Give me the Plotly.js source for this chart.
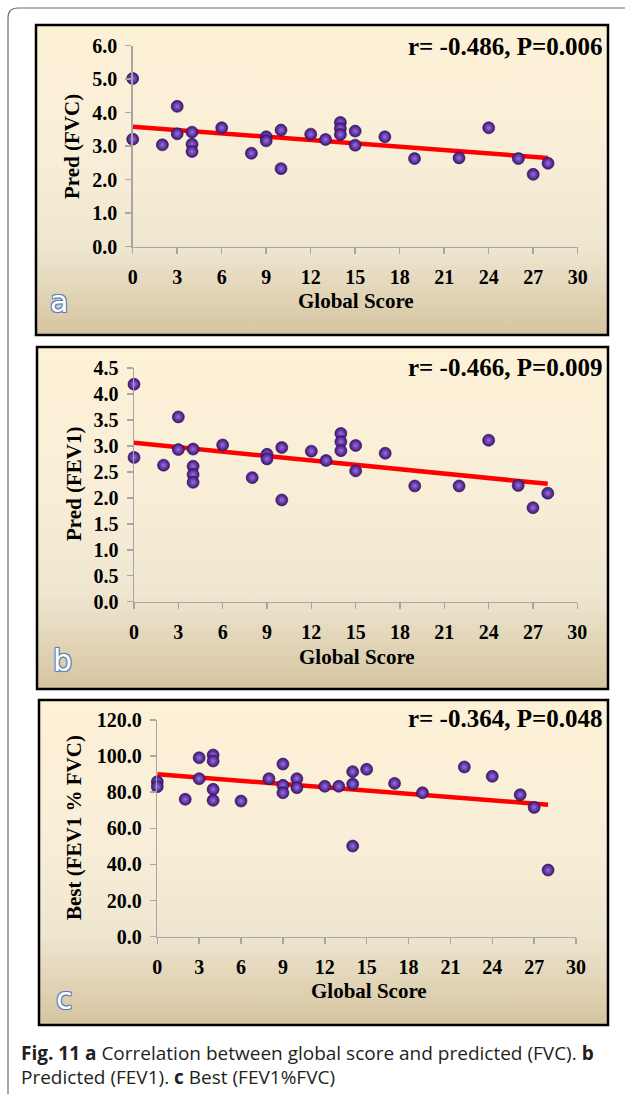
<!DOCTYPE html>
<html><head><meta charset="utf-8">
<script src="https://cdn.plot.ly/plotly-3.0.1.min.js"></script>
<style>html,body{margin:0;padding:0;background:#fff;} #chart{width:625px;height:1094px;}</style>
</head><body><div id="chart"></div><script>
// ---- data ----
const scoreA = [0,0,2,3,3,4,4,4,6,8,9,9,10,10,12,13,14,14,14,15,15,17,19,22,24,26,27,28];
const fvcA   = [5.02,3.21,3.04,4.19,3.37,3.42,3.06,2.84,3.55,2.79,3.28,3.16,3.48,2.33,3.36,3.20,3.71,3.53,3.35,3.45,3.03,3.28,2.63,2.65,3.55,2.63,2.16,2.49];
const fitAx = [0,28];
const fitAy = [3.58,2.65];
const statA = "r= -0.486, P=0.006";

const scoreB = [0,0,2,3,3,4,4,4,4,6,8,9,9,10,10,12,13,14,14,14,15,15,17,19,22,24,26,27,28];
const fev1B  = [4.19,2.78,2.63,3.56,2.93,2.94,2.61,2.45,2.30,3.02,2.39,2.84,2.75,2.97,1.96,2.90,2.72,3.24,3.08,2.91,3.01,2.52,2.86,2.23,2.23,3.11,2.24,1.81,2.09];
const fitBx = [0,28];
const fitBy = [3.06,2.27];
const statB = "r= -0.466, P=0.009";

const scoreC = [0,0,2,3,3,4,4,4,4,6,8,9,9,9,10,10,12,13,14,14,14,15,17,19,22,24,26,27,28];
const ratioC = [85.8,83.1,76.1,99.1,87.5,100.6,97.3,81.6,75.5,75.1,87.5,95.6,83.8,79.7,87.5,82.5,83.3,83.3,91.4,84.5,50.2,92.7,84.9,79.7,94.0,88.8,78.6,71.6,36.9];
const fitCx = [0,28];
const fitCy = [89.9,73.1];
const statC = "r= -0.364, P=0.048";

const xTitle = "Global Score";
const yTitles = ["Pred (FVC)","Pred (FEV1)","Best (FEV1 % FVC)"];
const panelLetters = ["a","b","c"];
const caption1 = "<b>Fig. 11 a</b> Correlation between global score and predicted (FVC). <b>b</b>";
const caption2 = "Predicted (FEV1). <b>c</b> Best (FEV1%FVC)";

// ---- geometry helpers ----
const W = 625, H = 1094;
const px = v => v / W;
const py = v => 1 - v / H;

const serif = "Liberation Serif, Times New Roman, serif";
const markerStyle = {size: 12, color: '#3c1474', gradient: {type: 'radial', color: '#9c6ee0'}, line: {color: '#2a0e55', width: 0.6}};
const lineStyle = {color: '#ff0000', width: 4.5};

function pts(x, y, xa, ya) {
  return {x: x, y: y, type: 'scatter', mode: 'markers', xaxis: xa, yaxis: ya, marker: markerStyle, cliponaxis: false, hoverinfo: 'skip'};
}
function fit(x, y, xa, ya) {
  return {x: x, y: y, type: 'scatter', mode: 'lines', xaxis: xa, yaxis: ya, line: lineStyle, cliponaxis: false, hoverinfo: 'skip'};
}

const data = [
  fit(fitAx, fitAy, 'x', 'y'), pts(scoreA, fvcA, 'x', 'y'),
  fit(fitBx, fitBy, 'x2', 'y2'), pts(scoreB, fev1B, 'x2', 'y2'),
  fit(fitCx, fitCy, 'x3', 'y3'), pts(scoreC, ratioC, 'x3', 'y3')
];

const tickFont = {family: serif, size: 20, color: '#000', weight: 700};
function xax(d, anchor) {
  return {domain: d, anchor: anchor, range: [0, 30], tick0: 0, dtick: 3, showline: true, linecolor: '#a6a6a6', linewidth: 1.5,
    ticks: 'outside', ticklen: 6, tickcolor: '#a6a6a6', tickwidth: 1.5, showgrid: false, zeroline: false,
    tickfont: tickFont, ticklabelstandoff: 6, fixedrange: true};
}
function yax(d, anchor, r, dt) {
  return {domain: d, anchor: anchor, range: r, dtick: dt, tick0: 0, tickformat: '.1f', showline: true, linecolor: '#a6a6a6', linewidth: 1.5,
    ticks: 'outside', ticklen: 6, tickcolor: '#a6a6a6', tickwidth: 1.5, showgrid: false, zeroline: false,
    tickfont: tickFont, ticklabelstandoff: 4, fixedrange: true};
}

// panel boxes [left, top, right, bottom] in px
const boxes = [[36, 25, 608, 335], [37, 347, 608, 689], [39, 700, 608, 1025]];

const gradSvg = '<svg xmlns="http://www.w3.org/2000/svg" width="100" height="100" preserveAspectRatio="none">' +
  '<defs><linearGradient id="g" x1="0" y1="0" x2="0" y2="1">' +
  '<stop offset="0" stop-color="#fdf1d6"/><stop offset="0.45" stop-color="#f8eed8"/>' +
  '<stop offset="0.72" stop-color="#efe6d0"/><stop offset="1" stop-color="#d5c4a0"/>' +
  '</linearGradient></defs><rect width="100" height="100" fill="url(#g)"/></svg>';
const gradSrc = 'data:image/svg+xml;charset=utf-8,' + encodeURIComponent(gradSvg);

const images = boxes.map(b => ({source: gradSrc, xref: 'paper', yref: 'paper', x: px(b[0]), y: py(b[1]),
  sizex: px(b[2]) - px(b[0]), sizey: py(b[1]) - py(b[3]), sizing: 'stretch', xanchor: 'left', yanchor: 'top', layer: 'below'}));

const shapes = boxes.map(b => ({type: 'rect', xref: 'paper', yref: 'paper', x0: px(b[0]), x1: px(b[2]), y0: py(b[3]), y1: py(b[1]),
  line: {color: '#000', width: 2.5}, fillcolor: 'rgba(0,0,0,0)'}));
// outer frame: left + top with rounded corner
shapes.push({type: 'path', xref: 'paper', yref: 'paper',
  path: `M ${px(8)},${py(1094)} L ${px(8)},${py(18)} Q ${px(8)},${py(8)} ${px(18)},${py(8)} L ${px(625)},${py(8)}`,
  line: {color: '#6d6d6d', width: 1.2}});

const titleFont = {family: serif, size: 21, color: '#000', weight: 700};
const statFont = {family: serif, size: 25, color: '#000', weight: 700};
const letterFont = {family: 'DejaVu Sans, sans-serif', size: 30, color: '#ffffff',
  shadow: '-1px -1px 0 #5d7fb8, 1px -1px 0 #5d7fb8, -1px 1px 0 #5d7fb8, 1px 1px 0 #5d7fb8, 0 0 2px #5d7fb8'};

const ann = [];
const statPos = [[604, 46, statA], [604, 367, statB], [604, 718, statC]];
statPos.forEach(s => ann.push({xref: 'paper', yref: 'paper', x: px(s[0]), y: py(s[1]), xanchor: 'right', yanchor: 'middle', text: s[2], showarrow: false, font: statFont}));
const xtPos = [[356, 301], [357, 657], [369, 991]];
xtPos.forEach(p => ann.push({xref: 'paper', yref: 'paper', x: px(p[0]), y: py(p[1]), xanchor: 'center', yanchor: 'middle', text: xTitle, showarrow: false, font: titleFont}));
const ytPos = [[72, 147], [74, 484], [74, 828]];
ytPos.forEach((p, i) => ann.push({xref: 'paper', yref: 'paper', x: px(p[0]), y: py(p[1]), xanchor: 'center', yanchor: 'middle', textangle: -90, text: yTitles[i], showarrow: false, font: titleFont}));
const letPos = [[59, 302], [62, 660], [64, 998]];
letPos.forEach((p, i) => ann.push({xref: 'paper', yref: 'paper', x: px(p[0]), y: py(p[1]), xanchor: 'center', yanchor: 'middle', text: panelLetters[i], showarrow: false, font: letterFont}));
const capFont = {family: 'Open Sans, sans-serif', size: 19, color: '#231f20'};
ann.push({xref: 'paper', yref: 'paper', x: px(19), y: py(1053), xanchor: 'left', yanchor: 'middle', text: caption1, showarrow: false, font: capFont});
ann.push({xref: 'paper', yref: 'paper', x: px(19), y: py(1077), xanchor: 'left', yanchor: 'middle', text: caption2, showarrow: false, font: capFont});

const layout = {
  width: W, height: H, margin: {l: 0, r: 0, t: 0, b: 0}, paper_bgcolor: '#ffffff', plot_bgcolor: 'rgba(0,0,0,0)',
  showlegend: false,
  xaxis: xax([px(132.7), px(577.7)], 'y'),
  yaxis: yax([py(246.7), py(45.7)], 'x', [0, 6], 1),
  xaxis2: xax([px(134), px(577.3)], 'y2'),
  yaxis2: yax([py(601.7), py(368.1)], 'x2', [0, 4.5], 0.5),
  xaxis3: xax([px(157.3), px(576)], 'y3'),
  yaxis3: yax([py(936.7), py(720)], 'x3', [0, 120], 20),
  images: images, shapes: shapes, annotations: ann
};

Plotly.newPlot('chart', data, layout, {displayModeBar: false, staticPlot: true});
</script></body></html>
